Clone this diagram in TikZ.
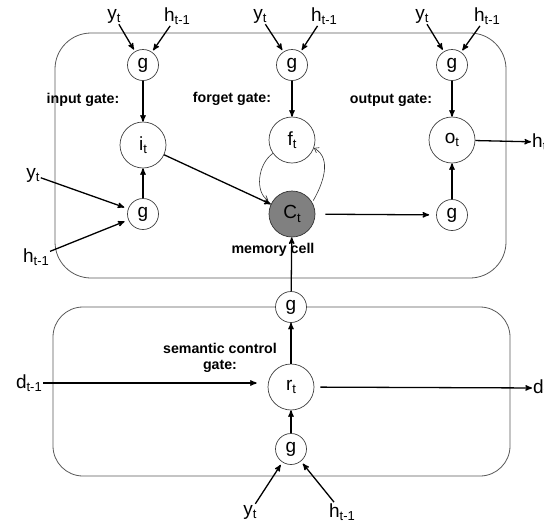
\documentclass[tikz,border=0pt]{standalone}
\usepackage{fontspec}
\setmainfont{Liberation Sans}
\usepackage{tikz}
\usetikzlibrary{arrows, arrows.meta, positioning}
\newcommand{\lowsub}[1]{\raisebox{-0.35ex}{\fontsize{13}{13}\selectfont #1}}
\tikzset{
  gnode/.style={circle, draw=black!75, line width=0.7pt, fill=white, minimum size=31pt, inner sep=0pt, font=\fontsize{19}{19}\selectfont},
  unode/.style={gnode, minimum size=46pt},
  cellnode/.style={unode, fill=black!50, draw=black!80},
  io/.style={inner sep=1pt, font=\fontsize{19}{19}\selectfont},
  gatelabel/.style={font=\fontsize{14.2}{16}\selectfont\bfseries, align=center},
  flow/.style={->, line width=1.3pt},
  fback/.style={-{Straight Barb[length=4pt, width=6pt]}, line width=0.6pt, black!80},
  block/.style={draw=black!65, line width=0.8pt}
}

\begin{document}
\begin{tikzpicture}[>=stealth', x=1pt, y=1pt]
\useasboundingbox (0,0) rectangle (544,-528);
% the two blocks
\draw[block, rounded corners=36pt] (55,-33) rectangle (506,-278);
\draw[block, rounded corners=30pt] (53,-307) rectangle (510,-476);

% gate labels
\node[gatelabel] (lblI) at (83,-100) {input gate:};
\node[gatelabel] (lblF) at (232,-99) {forget gate:};
\node[gatelabel] (lblO) at (391,-100) {output gate:};
\node[gatelabel] (lblC) at (273,-250) {memory cell};
\node[gatelabel] (lblS) at (220,-358) {semantic control\\gate:};

% input gate
\node[gnode] (gI) at (143,-65) {g};
\node[unode] (it) at (143,-145) {i\lowsub{t}};
\node[gnode] (gIx) at (143,-214) {g};
% forget gate
\node[gnode] (gF) at (292,-65) {g};
\node[unode] (ft) at (292,-140) {f\lowsub{t}};
\node[cellnode] (C) at (292,-214) {C\lowsub{t}};
% output gate
\node[gnode] (gO) at (452,-65) {g};
\node[unode] (ot) at (452,-140) {o\lowsub{t}};
\node[gnode] (gOx) at (452,-215) {g};
% semantic control gate
\node[gnode] (gS) at (291,-307) {g};
\node[unode] (rt) at (291,-387) {r\lowsub{t}};
\node[gnode] (gR) at (291,-449) {g};

% inputs and outputs
\node[io] (yI) at (114,-16) {y\lowsub{t}};
\node[io] (hI) at (177,-16) {h\lowsub{t-1}};
\node[io] (yF) at (260,-16) {y\lowsub{t}};
\node[io] (hF) at (324,-16) {h\lowsub{t-1}};
\node[io] (yO) at (422,-16) {y\lowsub{t}};
\node[io] (hO) at (487,-16) {h\lowsub{t-1}};
\node[io] (yIx) at (33,-175) {y\lowsub{t}};
\node[io] (hIx) at (36,-257) {h\lowsub{t-1}};
\node[io, anchor=east] (dIn) at (43,-383) {d\lowsub{t-1}};
\node[io, anchor=west] (hOut) at (531,-142) {h\lowsub{t}};
\node[io, anchor=west] (dOut) at (532,-388) {d\lowsub{t}};
\node[io] (yR) at (250,-512) {y\lowsub{t}};
\node[io] (hR) at (342,-512) {h\lowsub{t-1}};

% connections
\draw[flow, shorten >=2pt] (yI) -- (gI);
\draw[flow, shorten >=2pt] (hI) -- (gI);
\draw[flow, shorten >=2pt] (yF) -- (gF);
\draw[flow, shorten >=2pt] (hF) -- (gF);
\draw[flow, shorten >=2pt] (yO) -- (gO);
\draw[flow, shorten >=2pt] (hO) -- (gO);
\draw[flow] (gI) -- (it);
\draw[flow] (gF) -- (ft);
\draw[flow] (gO) -- (ot);
\draw[flow, shorten >=4pt] (yIx) -- (gIx);
\draw[flow, shorten >=4pt] (hIx) -- (gIx);
\draw[flow] (gIx) -- (it);
\draw[flow] (gOx) -- (ot);
\draw[flow] (it) -- (C);
\draw[flow, shorten <=10pt, shorten >=7pt] (C) -- (gOx);
\draw[flow] (ot) -- (hOut);
\draw[flow] (gS) -- (C);
\draw[flow] (rt) -- (gS);
\draw[flow] (gR) -- (rt);
\draw[flow, shorten >=3pt] (yR) -- (gR);
\draw[flow, shorten >=3pt] (hR) -- (gR);
\draw[flow, shorten >=11pt] (dIn.east) -- (dIn.east -| rt.west);
\draw[flow, shorten <=6pt] (rt) -- (dOut);
% cell feedback
\draw[fback, shorten >=4pt] (ft.215) to[out=215, in=150] (C.150);
\draw[fback, shorten <=2pt] (C.30) to[out=60, in=-30] (ft.-20);
\end{tikzpicture}
\end{document}
